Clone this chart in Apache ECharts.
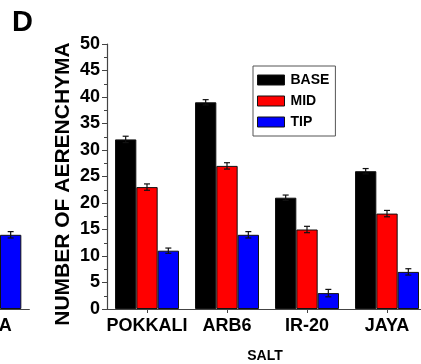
<!DOCTYPE html>
<html>
<head>
<meta charset="utf-8">
<script src="https://cdn.jsdelivr.net/npm/echarts@6/dist/echarts.min.js"></script>
<style>html,body{margin:0;padding:0;background:#fff;}#c{width:421px;height:364px;}</style>
</head>
<body>
<div id="c"></div>
<script>
var categories = ['POKKALI', 'ARB6', 'IR-20', 'JAYA'];
var seriesNames = ['BASE', 'MID', 'TIP'];
var baseValues = [32, 39, 21, 26];
var midValues = [23, 27, 15, 18];
var tipValues = [11, 14, 3, 7];
var baseErr = [0.6, 0.5, 0.5, 0.5];
var midErr = [0.6, 0.6, 0.6, 0.6];
var tipErr = [0.5, 0.6, 0.7, 0.6];
// neighbouring panel (cut off at the left edge): only JAYA TIP is visible
var prevTipValues = [null, null, null, 14];
var prevTipErr = [null, null, null, 0.6];
var yTicks = [0, 5, 10, 15, 20, 25, 30, 35, 40, 45, 50];

var FONT = '"Liberation Sans", Arial, sans-serif';
var colors = ['#000000', '#ff0000', '#0000ff'];

function errSeries(name, vals, errs, offsetIdx, xIdx, yIdx) {
  var data = [];
  for (var i = 0; i < vals.length; i++) {
    if (vals[i] != null) data.push([i, vals[i], errs[i]]);
  }
  return {
    type: 'custom', name: name + ' err', xAxisIndex: xIdx, yAxisIndex: yIdx, z: 10,
    silent: true, legendHoverLink: false,
    encode: {x: 0, y: 1},
    renderItem: function (params, api) {
      var c = api.value(0), v = api.value(1), e = api.value(2);
      var band = api.size([1, 0])[0];
      var bw = band * 0.8 / 3;
      var cx = api.coord([c, v])[0] + offsetIdx * bw;
      var yT = api.coord([c, v + e])[1];
      var yB = api.coord([c, v - e])[1];
      var hw = 3;
      var st = {stroke: '#111', lineWidth: 1.2};
      return {type: 'group', children: [
        {type: 'line', shape: {x1: cx, y1: yT, x2: cx, y2: yB}, style: st},
        {type: 'line', shape: {x1: cx - hw, y1: yT, x2: cx + hw, y2: yT}, style: st},
        {type: 'line', shape: {x1: cx - hw, y1: yB, x2: cx + hw, y2: yB}, style: st}
      ]};
    },
    data: data
  };
}

function barSeries(name, vals, color, xIdx, yIdx) {
  return {
    type: 'bar', name: name, xAxisIndex: xIdx, yAxisIndex: yIdx,
    data: vals, barGap: '0%', barCategoryGap: '20%',
    itemStyle: {color: color, borderColor: '#111', borderWidth: 1},
    emphasis: {disabled: true}
  };
}

var yMax = yTicks[yTicks.length - 1];
var xAxisCommon = {
  type: 'category', data: categories,
  axisLine: {show: true, lineStyle: {color: '#444', width: 1.2}},
  axisTick: {show: true, alignWithLabel: true, length: 4, lineStyle: {color: '#444'}},
  axisLabel: {fontFamily: FONT, fontWeight: 'bold', fontSize: 18, color: '#000', margin: 8, interval: 0},
  splitLine: {show: false}
};

var chart = echarts.init(document.getElementById('c'), null, {renderer: 'canvas'});
chart.setOption({
  animation: false,
  backgroundColor: '#fff',
  grid: [
    {left: 107, top: 44, width: 320, height: 265, containLabel: false, outerBoundsMode: 'none'},
    {left: -290.67, top: 44, width: 320, height: 265, containLabel: false, outerBoundsMode: 'none'}
  ],
  xAxis: [
    Object.assign({gridIndex: 0}, xAxisCommon),
    Object.assign({gridIndex: 1}, xAxisCommon)
  ],
  yAxis: [
    {
      gridIndex: 0, type: 'value', min: yTicks[0], max: yMax, interval: 5,
      axisLine: {show: true, lineStyle: {color: '#444', width: 1.2}},
      axisTick: {show: true, length: 5, lineStyle: {color: '#444'}},
      minorTick: {show: true, splitNumber: 2, length: 3, lineStyle: {color: '#444'}},
      axisLabel: {fontFamily: FONT, fontWeight: 'bold', fontSize: 18, color: '#000', margin: 7},
      splitLine: {show: false}
    },
    {gridIndex: 1, type: 'value', min: yTicks[0], max: yMax, interval: 5, show: false, splitLine: {show: false}}
  ],
  legend: {
    orient: 'vertical', left: 253, top: 66,
    data: seriesNames.map(function (n) { return {name: n, icon: 'rect'}; }),
    padding: [7, 6, 7, 4], itemGap: 7, itemWidth: 27, itemHeight: 10,
    borderColor: '#555', borderWidth: 1, borderRadius: 0,
    selectedMode: false,
    textStyle: {fontFamily: FONT, fontWeight: 'bold', fontSize: 14, color: '#000', padding: [0, 0, 0, 1]},
    itemStyle: {borderColor: '#111', borderWidth: 1}
  },
  graphic: [
    {type: 'text', x: 12, y: 23, style: {text: 'D', font: 'bold 29px ' + FONT, fill: '#000', align: 'left', verticalAlign: 'middle'}},
    {type: 'text', x: 63, y: 184, rotation: Math.PI / 2, style: {text: 'NUMBER OF AERENCHYMA', font: 'bold 21px ' + FONT, fill: '#000', align: 'center', verticalAlign: 'middle'}},
    {type: 'text', x: 265, y: 356, style: {text: 'SALT', font: 'bold 14px ' + FONT, fill: '#000', align: 'center', verticalAlign: 'middle'}}
  ],
  series: [
    barSeries('BASE', baseValues, colors[0], 0, 0),
    barSeries('MID', midValues, colors[1], 0, 0),
    barSeries('TIP', tipValues, colors[2], 0, 0),
    errSeries('BASE', baseValues, baseErr, -1, 0, 0),
    errSeries('MID', midValues, midErr, 0, 0, 0),
    errSeries('TIP', tipValues, tipErr, 1, 0, 0),
    barSeries('prevBASE', [null, null, null, null], colors[0], 1, 1),
    barSeries('prevMID', [null, null, null, null], colors[1], 1, 1),
    barSeries('prevTIP', prevTipValues, colors[2], 1, 1),
    errSeries('prevTIP', prevTipValues, prevTipErr, 1, 1, 1)
  ]
});
</script>
</body>
</html>
